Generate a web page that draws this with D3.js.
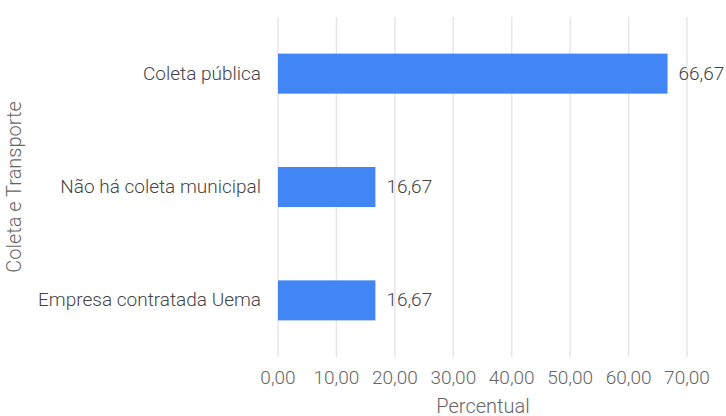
<!DOCTYPE html>
<html>
<head>
<meta charset="utf-8">
<script src="https://cdn.jsdelivr.net/npm/d3@7"></script>
<style>
  body { margin: 0; background: #fff; }
  svg { display: block; font-family: Roboto, Arial, sans-serif; font-weight: 300; }
</style>
</head>
<body>
<script>
let w = 726;
let h = 416;

let categories = ['Coleta pública', 'Não há coleta municipal', 'Empresa contratada Uema'];
let values = [66.67, 16.67, 16.67];
let xTicks = [0, 10, 20, 30, 40, 50, 60, 70];

let plotLeft = 278, plotRight = 687, plotTop = 17, plotBottom = 357;

let fmt = (v) => { return d3.format('.2f')(v).replace('.', ','); };

let xScale = d3.scaleLinear()
  .domain([0, 70])
  .range([plotLeft, plotRight]);
let yScale = d3.scaleBand()
  .domain(categories)
  .range([plotTop, plotBottom])
  .paddingInner(0.647)
  .paddingOuter(0.323);

let svg = d3.select('body')
  .append('svg')
  .attr('width', w)
  .attr('height', h);

// gridlines
svg.selectAll('line.grid')
  .data(xTicks)
  .enter()
  .append('line')
  .attr('class', 'grid')
  .attr('x1', (d) => { return xScale(d); })
  .attr('x2', (d) => { return xScale(d); })
  .attr('y1', plotTop)
  .attr('y2', plotBottom)
  .attr('stroke', '#e6e6e6')
  .attr('stroke-width', 1.5);

// tick labels
svg.selectAll('text.tick')
  .data(xTicks)
  .enter()
  .append('text')
  .attr('class', 'tick')
  .text((d) => { return fmt(d); })
  .attr('x', (d) => { return xScale(d); })
  .attr('y', 384)
  .attr('text-anchor', 'middle')
  .attr('font-size', '19px')
  .attr('fill', '#666');

svg.selectAll('rect')
  .data(values)
  .enter()
  .append('rect')
  .attr('x', xScale(0))
  .attr('y', (d, i) => { return yScale(categories[i]); })
  .attr('width', (d) => { return xScale(d) - xScale(0); })
  .attr('height', yScale.bandwidth())
  .attr('fill', '#4285f4');

svg.selectAll('text.val')
  .data(values)
  .enter()
  .append('text')
  .attr('class', 'val')
  .text((d) => { return fmt(d); })
  .attr('x', (d) => { return xScale(d) + 11; })
  .attr('y', (d, i) => { return yScale(categories[i]) + yScale.bandwidth() / 2 + 6; })
  .attr('font-size', '19px')
  .attr('fill', '#444');

svg.selectAll('text.cat')
  .data(categories)
  .enter()
  .append('text')
  .attr('class', 'cat')
  .text((d) => { return d; })
  .attr('x', 261)
  .attr('y', (d) => { return yScale(d) + yScale.bandwidth() / 2 + 6; })
  .attr('text-anchor', 'end')
  .attr('font-size', '19px')
  .attr('fill', '#444');

svg.append('text')
  .text('Percentual')
  .attr('x', 483)
  .attr('y', 413)
  .attr('text-anchor', 'middle')
  .attr('font-size', '20px')
  .attr('fill', '#666');

svg.append('text')
  .text('Coleta e Transporte')
  .attr('transform', 'translate(21,187) rotate(-90)')
  .attr('text-anchor', 'middle')
  .attr('font-size', '20px')
  .attr('fill', '#666');
</script>
</body>
</html>
